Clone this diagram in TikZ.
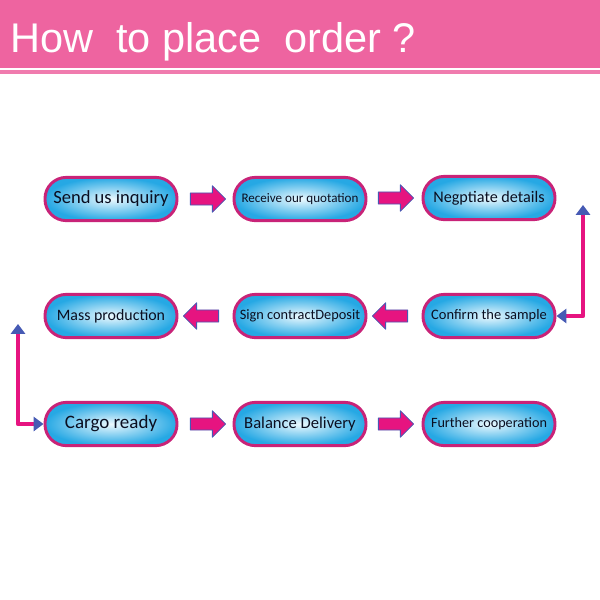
\documentclass[tikz,border=0pt]{standalone}
\usepackage{fontspec}
\setmainfont{Carlito}
\newfontfamily\titlefont{Liberation Sans}
\usetikzlibrary{shapes.arrows,arrows.meta}
\definecolor{headpink}{RGB}{238,100,160}
\definecolor{rimred}{RGB}{200,35,120}
\definecolor{capblue}{RGB}{38,168,228}
\definecolor{capwhite}{RGB}{236,249,254}
\definecolor{flowpink}{RGB}{230,20,128}
\definecolor{edgeblue}{RGB}{70,90,180}
\definecolor{inktext}{RGB}{10,14,32}
\begin{document}
\begin{tikzpicture}[x=0.025cm,y=-0.025cm,line cap=round,line join=round,
  capsule/.style={rectangle,rounded corners=0.53cm,minimum width=3.3cm,minimum height=1.08cm,draw=rimred,line width=2.1pt,inner color=capwhite,outer color=capblue,text=inktext,inner sep=0pt},
  fat/.style={single arrow,fill=flowpink,draw=edgeblue,line width=0.6pt,minimum height=0.88cm,inner xsep=0pt,inner ysep=0.14cm,single arrow head extend=0.18cm},
  back/.style={fat,shape border rotate=180},
  link/.style={draw=flowpink,line width=3pt,line cap=butt,arrows={Triangle[color=edgeblue,width=10pt,length=7pt]-Triangle[color=edgeblue,width=10pt,length=7pt]}}]
  \useasboundingbox (0,0) rectangle (600,600);
  \fill[headpink] (0,0) rectangle (600,67.5);
  \fill[headpink!85] (0,69.5) rectangle (600,74);
  \node[anchor=base west,inner sep=0pt,text=white,font=\titlefont\fontsize{29.5}{32}\selectfont] (title) at (10,52) {How\ \ to place\ \ order ?};

  \node[capsule,font=\fontsize{13.2}{15}\selectfont] (inquiry) at (111,199) {Send us inquiry};
  \node[capsule,font=\fontsize{9.3}{11}\selectfont] (quote) at (300,199) {Receive our quotation};
  \node[capsule,font=\fontsize{11.5}{13}\selectfont] (detail) at (489,198) {Negptiate details};
  \node[capsule,font=\fontsize{11.3}{13}\selectfont] (mass) at (111,316) {Mass production};
  \node[capsule,font=\fontsize{10.2}{12}\selectfont] (deposit) at (300,316) {Sign contractDeposit};
  \node[capsule,font=\fontsize{10.3}{12}\selectfont] (sample) at (489,316) {Confirm the sample};
  \node[capsule,font=\fontsize{13.5}{15}\selectfont] (cargo) at (111,424) {Cargo ready};
  \node[capsule,font=\fontsize{11.8}{13}\selectfont] (balance) at (300,424) {Balance Delivery};
  \node[capsule,font=\fontsize{10.1}{12}\selectfont] (further) at (489,424) {Further cooperation};

  \node[fat] (a1) at (205,199) {};
  \node[fat] (a2) at (393,198) {};
  \node[back] (a3) at (204,316) {};
  \node[back] (a4) at (393,316) {};
  \node[fat] (a5) at (205,424) {};
  \node[fat] (a6) at (393,424) {};

  \coordinate (rtop) at (583,205);
  \draw[link] (rtop) |- (sample.east);
  \coordinate (ltop) at (18,324);
  \draw[link] (ltop) |- (cargo.west);
\end{tikzpicture}
\end{document}
